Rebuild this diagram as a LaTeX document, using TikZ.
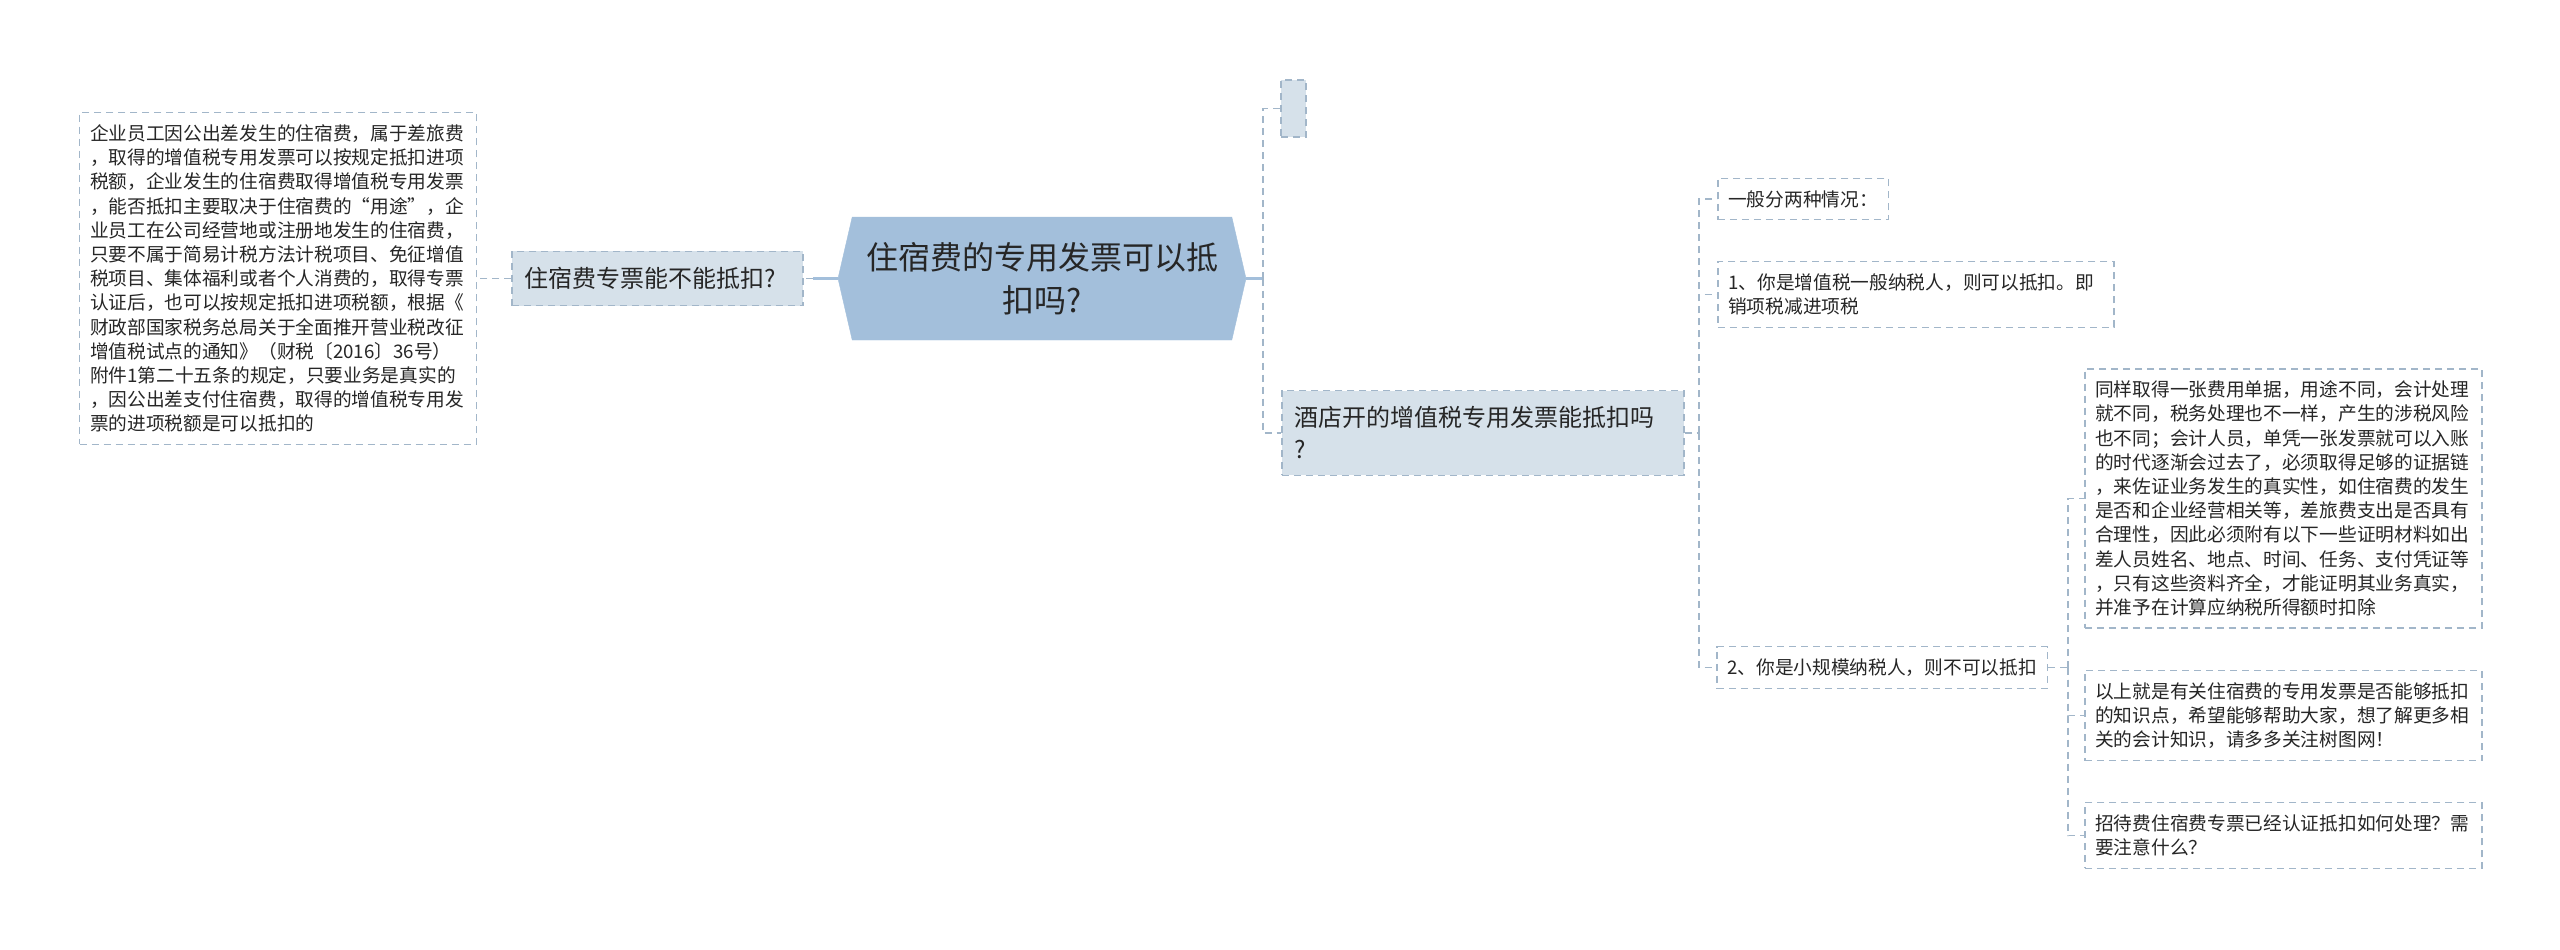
\documentclass[tikz,border=0pt]{standalone}
\usepackage{fontspec}
\setmainfont{Noto Sans CJK SC}
\usepackage{xcolor}
\usetikzlibrary{positioning,shapes.symbols}

\definecolor{rootblue}{HTML}{A3BFDB}
\definecolor{topicfill}{HTML}{D6E1EA}
\definecolor{edgegray}{HTML}{A2B6C9}
\definecolor{inkgray}{HTML}{262626}

\begin{document}
\begin{tikzpicture}[
    x=1pt, y=-1pt,
    root/.style={signal, signal to=east and west, signal pointer angle=154,
                 fill=rootblue, draw=rootblue, minimum width=408pt,
                 minimum height=123pt, inner sep=0pt, align=center,
                 text=inkgray, font=\fontsize{32}{43}\selectfont},
    topic/.style={draw=edgegray, fill=topicfill, line width=1.5pt,
                  dash pattern=on 7pt off 5pt, inner xsep=12.5pt,
                  inner ysep=16pt, align=left, text=inkgray,
                  font=\fontsize{24}{32}\selectfont},
    leaf/.style={draw=edgegray, fill=white, line width=1.5pt,
                 dash pattern=on 7pt off 5pt, inner xsep=10.5pt,
                 inner ysep=12pt, align=left, text=inkgray,
                 font=\fontsize{18.7}{24.2}\selectfont},
    link/.style={edgegray, line width=1.5pt, dash pattern=on 7pt off 5pt},
    stem/.style={rootblue, line width=3pt},
  ]
  \useasboundingbox (0,0) rectangle (2560,950);

  \node[root] (hex) at (1042,278.5) {住宿费的专用发票可以抵\\扣吗?};

  % left side
  \node[topic, text width=266pt, left=34pt of hex] (topA)
    {住宿费专票能不能抵扣?};
  \node[leaf, text width=376pt, left=34pt of topA] (detail)
    {企业员工因公出差发生的住宿费，属于差旅费\\
     ，取得的增值税专用发票可以按规定抵扣进项\\
     税额，企业发生的住宿费取得增值税专用发票\\
     ，能否抵扣主要取决于住宿费的“用途”，企\\
     业员工在公司经营地或注册地发生的住宿费，\\
     只要不属于简易计税方法计税项目、免征增值\\
     税项目、集体福利或者个人消费的，取得专票\\
     认证后，也可以按规定抵扣进项税额，根据《\\
     财政部国家税务总局关于全面推开营业税改征\\
     增值税试点的通知》（财税〔2016〕36号）\\
     附件1第二十五条的规定，只要业务是真实的\\
     ，因公出差支付住宿费，取得的增值税专用发\\
     票的进项税额是可以抵扣的};

  % right side
  \node[topic, minimum width=25pt, minimum height=57pt, inner sep=0pt,
        anchor=west] (blank) at (1280,108.5) {};
  \node[topic, text width=377pt, anchor=west] (topB) at (1281,433)
    {酒店开的增值税专用发票能抵扣吗\\?};

  \node[leaf, anchor=west] (case0) at (1717,199) {一般分两种情况：};
  \node[leaf, text width=375pt, anchor=west] (case1) at (1717,294.5)
    {1、你是增值税一般纳税人，则可以抵扣。即\\销项税减进项税};
  \node[leaf, anchor=west] (case2) at (1716,667.5)
    {2、你是小规模纳税人，则不可以抵扣};

  \node[leaf, text width=376pt, anchor=west] (note1) at (2084,498.5)
    {同样取得一张费用单据，用途不同，会计处理\\
     就不同，税务处理也不一样，产生的涉税风险\\
     也不同；会计人员，单凭一张发票就可以入账\\
     的时代逐渐会过去了，必须取得足够的证据链\\
     ，来佐证业务发生的真实性，如住宿费的发生\\
     是否和企业经营相关等，差旅费支出是否具有\\
     合理性，因此必须附有以下一些证明材料如出\\
     差人员姓名、地点、时间、任务、支付凭证等\\
     ，只有这些资料齐全，才能证明其业务真实，\\
     并准予在计算应纳税所得额时扣除};
  \node[leaf, text width=376pt, anchor=west] (note2) at (2084,715.5)
    {以上就是有关住宿费的专用发票是否能够抵扣\\
     的知识点，希望能够帮助大家，想了解更多相\\
     关的会计知识，请多多关注树图网！};
  \node[leaf, text width=376pt, anchor=west] (note3) at (2084,835.5)
    {招待费住宿费专票已经认证抵扣如何处理？需\\要注意什么？};

  % junctions
  \coordinate (hjL) at (813,278.5);
  \coordinate (hjR) at (1263,278.5);
  \coordinate (bj) at (1699,433);
  \coordinate (cj) at (2068,667.5);

  \draw[stem] (hex.west) -- (hjL);
  \draw[link] (hjL) -- (topA.east);
  \draw[link] (topA.west) -- (detail.east);

  \draw[stem] (hex.east) -- (hjR);
  \draw[link] (hjR) |- (blank.west);
  \draw[link] (hjR) |- (topB.west);

  \draw[link] (topB.east) -- (bj);
  \draw[link] (bj) |- (case0.west);
  \draw[link] (bj) |- (case1.west);
  \draw[link] (bj) |- (case2.west);

  \draw[link] (case2.east) -- (cj);
  \draw[link] (cj) |- (note1.west);
  \draw[link] (cj) |- (note2.west);
  \draw[link] (cj) |- (note3.west);

\end{tikzpicture}
\end{document}
